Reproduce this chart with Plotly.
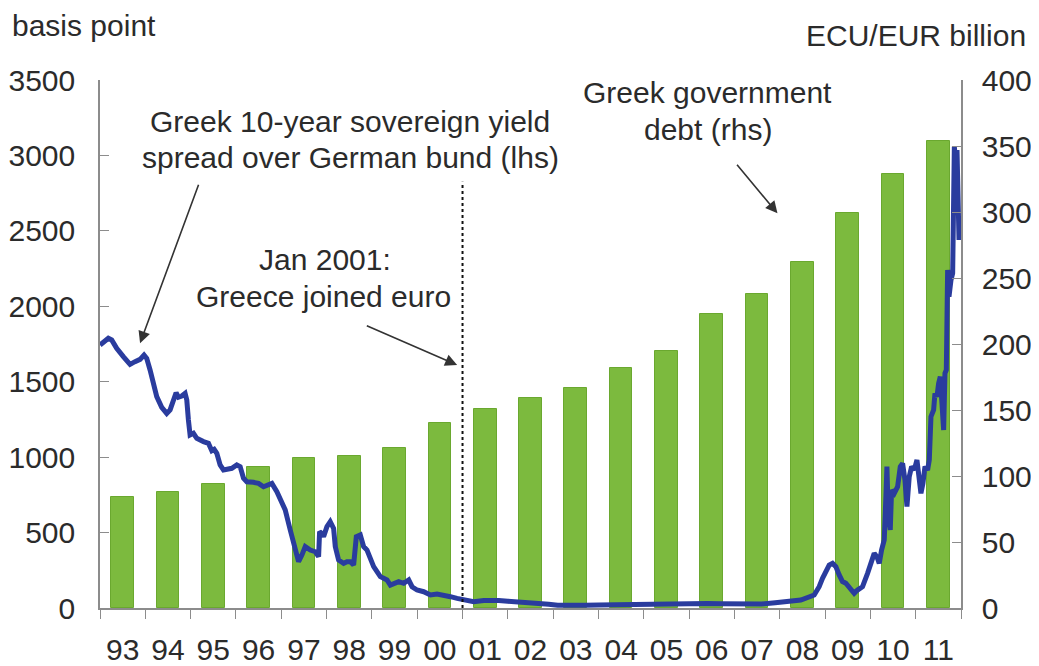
import plotly.graph_objects as go

# ---------------- data ----------------
years = list(range(1993, 2012))
year_labels = ["93", "94", "95", "96", "97", "98", "99", "00", "01", "02",
               "03", "04", "05", "06", "07", "08", "09", "10", "11"]
# Greek government debt, ECU/EUR billion (rhs)
debt = [84, 88, 94, 107, 114, 115, 121, 140, 151, 159,
        167, 182, 195, 223, 238, 262, 299, 329, 354]

# Greek 10-year spread over German bund, basis points (lhs); time in decimal years
spread_t = [
    1993.000, 1993.184, 1993.258, 1993.368, 1993.515, 1993.663, 1993.773, 1993.884,
    1993.972, 1994.031, 1994.105, 1994.178, 1994.252, 1994.362, 1994.473, 1994.547,
    1994.620, 1994.679, 1994.731, 1994.804, 1994.878, 1994.915, 1994.951, 1994.988,
    1995.062, 1995.136, 1995.283, 1995.393, 1995.467, 1995.519, 1995.578, 1995.651,
    1995.725, 1995.799, 1995.909, 1996.019, 1996.093, 1996.167, 1996.240, 1996.388,
    1996.498, 1996.608, 1996.719, 1996.793, 1996.903, 1997.014, 1997.087, 1997.198,
    1997.308, 1997.382, 1997.455, 1997.529, 1997.640, 1997.750, 1997.824, 1997.846,
    1997.897, 1997.934, 1998.008, 1998.081, 1998.155, 1998.192, 1998.265, 1998.376,
    1998.450, 1998.523, 1998.597, 1998.656, 1998.744, 1998.818, 1998.892, 1998.965,
    1999.039, 1999.113, 1999.186, 1999.260, 1999.333, 1999.407, 1999.481, 1999.591,
    1999.702, 1999.812, 1999.886, 1999.996, 2000.143, 2000.291, 2000.438, 2000.585,
    2000.733, 2000.880, 2001.027, 2001.248, 2001.469, 2001.616, 2001.800, 2002.000,
    2002.300, 2002.600, 2002.900, 2003.100, 2003.400, 2003.700, 2004.000, 2004.300,
    2004.600, 2004.900, 2005.200, 2005.500, 2005.800, 2006.100, 2006.400, 2006.700,
    2007.000, 2007.300, 2007.600, 2007.900, 2008.200, 2008.465, 2008.760, 2008.870,
    2008.944, 2009.017, 2009.091, 2009.165, 2009.238, 2009.312, 2009.386, 2009.459,
    2009.570, 2009.643, 2009.717, 2009.827, 2009.938, 2010.011, 2010.085, 2010.144,
    2010.196, 2010.247, 2010.306, 2010.343, 2010.365, 2010.394, 2010.439, 2010.468,
    2010.527, 2010.601, 2010.660, 2010.711, 2010.763, 2010.807, 2010.858, 2010.910,
    2010.969, 2011.028, 2011.079, 2011.116, 2011.160, 2011.205, 2011.263, 2011.300,
    2011.337, 2011.396, 2011.425, 2011.470, 2011.506, 2011.543, 2011.580, 2011.617,
    2011.646, 2011.676, 2011.705, 2011.735, 2011.779, 2011.816, 2011.853, 2011.882,
    2011.912, 2011.941, 2011.956]
spread = [
    1743, 1788, 1777, 1721, 1666, 1615, 1633, 1648,
    1677, 1655, 1578, 1478, 1401, 1330, 1290, 1313,
    1390, 1427, 1397, 1405, 1423, 1379, 1246, 1147,
    1158, 1125, 1103, 1092, 1043, 1052, 1025, 948,
    915, 919, 926, 948, 937, 860, 837, 833,
    826, 804, 815, 826, 771, 705, 650, 517,
    384, 307, 351, 407, 384, 373, 340, 506,
    495, 473, 539, 572, 528, 407, 318, 296,
    307, 307, 285, 473, 484, 407, 384, 329,
    274, 241, 208, 197, 186, 152, 164, 175,
    164, 186, 141, 119, 108, 86, 93, 80,
    75, 64, 53, 42, 49, 53, 50, 45,
    40, 33, 25, 18, 15, 18, 20, 22,
    20, 24, 22, 26, 30, 32, 30, 28,
    25, 22, 26, 35, 45, 53, 86, 141,
    197, 241, 285, 296, 274, 219, 175, 164,
    130, 97, 119, 141, 230, 285, 362, 340,
    296, 384, 451, 738, 937, 628, 517, 782,
    760, 804, 937, 959, 849, 672, 871, 937,
    915, 981, 849, 760, 826, 937, 915, 981,
    1268, 1313, 1423, 1401, 1489, 1534, 1357, 1180,
    1556, 1578, 2241, 2064, 2174, 2219, 3058, 2948,
    3036, 2771, 2439]

euro_entry = 2001.0

# ---------------- style ----------------
FONT = "Liberation Sans"
TXT = "#2b2b2b"
AX = "#8c8c8c"
FS = 30

fig = go.Figure()

fig.add_trace(go.Bar(
    x=[y + 0.5 for y in years], y=debt, width=0.5,
    marker=dict(color="#7cba3e", line=dict(color="#6aa82f", width=1)),
    yaxis="y", showlegend=False, hoverinfo="skip"))

fig.add_trace(go.Scatter(
    x=spread_t, y=spread, mode="lines",
    line=dict(color="#2a3c9e", width=5),
    yaxis="y2", showlegend=False))

fig.add_shape(type="line", xref="x", yref="y2",
              x0=euro_entry, x1=euro_entry, y0=0, y1=2825,
              line=dict(color="#111111", width=2, dash="dot"))

common_ax = dict(showline=True, linecolor=AX, linewidth=1.5, showgrid=False,
                 zeroline=False, tickcolor=AX, ticklen=9, tickwidth=1.2,
                 automargin=False,
                 tickfont=dict(family=FONT, size=FS, color=TXT))

# the page body adds an 8px margin, so the figure is 8px smaller on each axis
fig.update_layout(
    width=1031, height=658,
    margin=dict(l=92, r=78, t=72, b=58),
    paper_bgcolor="white", plot_bgcolor="white",
    bargap=0,
    xaxis=dict(range=[1993, 2012], tickvals=[y + 0.5 for y in years],
               ticktext=year_labels, ticks="", showline=True, linecolor=AX,
               linewidth=1.5, showgrid=False, zeroline=False, automargin=False,
               tickfont=dict(family=FONT, size=FS, color=TXT),
               ticklabelstandoff=14,
               minor=dict(ticks="outside", tick0=1993, dtick=1, ticklen=9,
                          tickcolor=AX, tickwidth=1.2, showgrid=False)),
    yaxis=dict(side="right", range=[0, 400], tickvals=[0, 50, 100, 150, 200, 250, 300, 350, 400],
               ticks="inside", ticklabelstandoff=13, **common_ax),
    yaxis2=dict(side="left", overlaying="y", range=[0, 3500],
                tickvals=[0, 500, 1000, 1500, 2000, 2500, 3000, 3500],
                ticks="inside", ticklabelstandoff=17, **common_ax),
)

anns = [
    dict(text="basis point", xref="paper", yref="paper", x=-0.1045, y=1.104,
         xanchor="left", yanchor="middle"),
    dict(text="ECU/EUR billion", xref="paper", yref="paper", x=1.0778, y=1.085,
         xanchor="right", yanchor="middle"),
    dict(text="Greek 10-year sovereign yield", xref="x", yref="y2", x=1998.52, y=3222),
    dict(text="spread over German bund (lhs)", xref="x", yref="y2", x=1998.52, y=2983),
    dict(text="Jan 2001:", xref="x", yref="y2", x=1997.97, y=2307),
    dict(text="Greece joined euro", xref="x", yref="y2", x=1997.94, y=2062),
    dict(text="Greek government", xref="x", yref="y2", x=2006.41, y=3414),
    dict(text="debt (rhs)", xref="x", yref="y2", x=2006.41, y=3169),
]
for a in anns:
    a.setdefault("xanchor", "center")
    a.setdefault("yanchor", "middle")
    a["showarrow"] = False
    a["font"] = dict(family=FONT, size=FS, color=TXT)
    fig.add_annotation(**a)

arrows = [
    ((1995.187, 2815), (1993.884, 1755)),
    ((1998.855, 1876), (2000.881, 1611)),
    ((2007.03, 2948), (2007.95, 2616)),
]
for (tx, ty), (hx, hy) in arrows:
    fig.add_annotation(text="", x=hx, y=hy, ax=tx, ay=ty, xref="x", yref="y2",
                       axref="x", ayref="y2", showarrow=True, arrowhead=2,
                       arrowsize=1.5, arrowwidth=1.6, arrowcolor="#333333", standoff=0)

fig.write_html("out.html")
